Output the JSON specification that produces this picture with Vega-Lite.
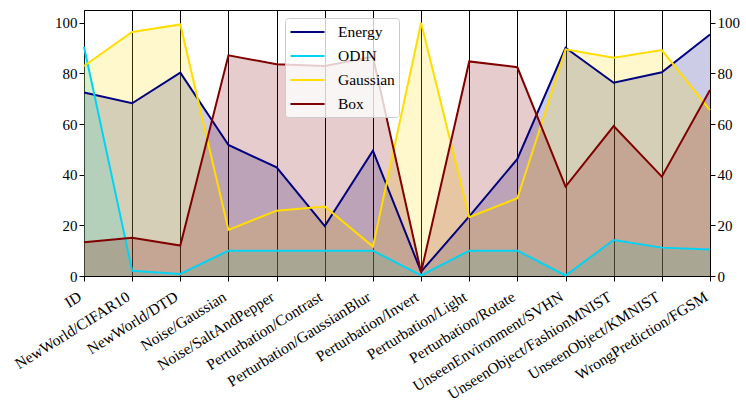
{
  "$schema": "https://vega.github.io/schema/vega-lite/v6.json",
  "width": 626,
  "height": 266,
  "autosize": "none",
  "padding": {"left": 84, "top": 10, "right": 36, "bottom": 134},
  "background": "white",
  "config": {
    "font": "Liberation Serif",
    "view": {"stroke": "black", "strokeWidth": 1},
    "axis": {
      "labelFont": "Liberation Serif",
      "labelFontSize": 15,
      "labelColor": "black",
      "tickColor": "black",
      "domainColor": "black",
      "tickSize": 5,
      "title": null
    },
    "legend": {
      "labelFont": "Liberation Serif",
      "labelFontSize": 15.5,
      "labelColor": "black"
    }
  },
  "data": {
    "values": [
      {"category": "ID", "method": "Energy", "value": 72.4},
      {"category": "NewWorld/CIFAR10", "method": "Energy", "value": 68.2},
      {"category": "NewWorld/DTD", "method": "Energy", "value": 80.3},
      {"category": "Noise/Gaussian", "method": "Energy", "value": 51.7},
      {"category": "Noise/SaltAndPepper", "method": "Energy", "value": 42.9},
      {"category": "Perturbation/Contrast", "method": "Energy", "value": 19.7},
      {"category": "Perturbation/GaussianBlur", "method": "Energy", "value": 49.5},
      {"category": "Perturbation/Invert", "method": "Energy", "value": 1.7},
      {"category": "Perturbation/Light", "method": "Energy", "value": 23.5},
      {"category": "Perturbation/Rotate", "method": "Energy", "value": 46.2},
      {"category": "UnseenEnvironment/SVHN", "method": "Energy", "value": 90.1},
      {"category": "UnseenObject/FashionMNIST", "method": "Energy", "value": 76.3},
      {"category": "UnseenObject/KMNIST", "method": "Energy", "value": 80.4},
      {"category": "WrongPrediction/FGSM", "method": "Energy", "value": 95.3},
      {"category": "ID", "method": "ODIN", "value": 90.5},
      {"category": "NewWorld/CIFAR10", "method": "ODIN", "value": 2.1},
      {"category": "NewWorld/DTD", "method": "ODIN", "value": 0.8},
      {"category": "Noise/Gaussian", "method": "ODIN", "value": 10},
      {"category": "Noise/SaltAndPepper", "method": "ODIN", "value": 10},
      {"category": "Perturbation/Contrast", "method": "ODIN", "value": 10},
      {"category": "Perturbation/GaussianBlur", "method": "ODIN", "value": 10},
      {"category": "Perturbation/Invert", "method": "ODIN", "value": 0.2},
      {"category": "Perturbation/Light", "method": "ODIN", "value": 10},
      {"category": "Perturbation/Rotate", "method": "ODIN", "value": 10},
      {"category": "UnseenEnvironment/SVHN", "method": "ODIN", "value": 0.2},
      {"category": "UnseenObject/FashionMNIST", "method": "ODIN", "value": 14.2},
      {"category": "UnseenObject/KMNIST", "method": "ODIN", "value": 11.2},
      {"category": "WrongPrediction/FGSM", "method": "ODIN", "value": 10.5},
      {"category": "ID", "method": "Gaussian", "value": 82.9},
      {"category": "NewWorld/CIFAR10", "method": "Gaussian", "value": 96.3},
      {"category": "NewWorld/DTD", "method": "Gaussian", "value": 99.3},
      {"category": "Noise/Gaussian", "method": "Gaussian", "value": 18.2},
      {"category": "Noise/SaltAndPepper", "method": "Gaussian", "value": 25.8},
      {"category": "Perturbation/Contrast", "method": "Gaussian", "value": 27.4},
      {"category": "Perturbation/GaussianBlur", "method": "Gaussian", "value": 11.6},
      {"category": "Perturbation/Invert", "method": "Gaussian", "value": 100},
      {"category": "Perturbation/Light", "method": "Gaussian", "value": 23.2},
      {"category": "Perturbation/Rotate", "method": "Gaussian", "value": 30.7},
      {"category": "UnseenEnvironment/SVHN", "method": "Gaussian", "value": 89.5},
      {"category": "UnseenObject/FashionMNIST", "method": "Gaussian", "value": 86.2},
      {"category": "UnseenObject/KMNIST", "method": "Gaussian", "value": 89.2},
      {"category": "WrongPrediction/FGSM", "method": "Gaussian", "value": 65.5},
      {"category": "ID", "method": "Box", "value": 13.3},
      {"category": "NewWorld/CIFAR10", "method": "Box", "value": 15.1},
      {"category": "NewWorld/DTD", "method": "Box", "value": 12},
      {"category": "Noise/Gaussian", "method": "Box", "value": 87.1},
      {"category": "Noise/SaltAndPepper", "method": "Box", "value": 83.6},
      {"category": "Perturbation/Contrast", "method": "Box", "value": 82.9},
      {"category": "Perturbation/GaussianBlur", "method": "Box", "value": 86.6},
      {"category": "Perturbation/Invert", "method": "Box", "value": 1.5},
      {"category": "Perturbation/Light", "method": "Box", "value": 84.7},
      {"category": "Perturbation/Rotate", "method": "Box", "value": 82.4},
      {"category": "UnseenEnvironment/SVHN", "method": "Box", "value": 35.3},
      {"category": "UnseenObject/FashionMNIST", "method": "Box", "value": 59.2},
      {"category": "UnseenObject/KMNIST", "method": "Box", "value": 39.2},
      {"category": "WrongPrediction/FGSM", "method": "Box", "value": 73.4}
    ]
  },
  "encoding": {
    "x": {
      "field": "category",
      "type": "nominal",
      "sort": null,
      "scale": {"type": "point", "padding": 0},
      "axis": {
        "labelAngle": -32,
        "labelAlign": "right",
        "labelBaseline": "top",
        "labelFontSize": 15.5,
        "labelPadding": 8,
        "labelOffset": -8,
        "grid": true,
        "gridColor": "black",
        "gridOpacity": 1,
        "gridWidth": 1,
        "labelOverlap": false,
        "labelLimit": 300
      }
    },
    "color": {
      "field": "method",
      "type": "nominal",
      "sort": null,
      "scale": {
        "domain": ["Energy", "ODIN", "Gaussian", "Box"],
        "range": ["#000080", "#00d4f5", "#ffdd00", "#800000"]
      },
      "legend": {
        "title": null,
        "orient": "none",
        "legendX": 201,
        "legendY": 8,
        "symbolType": "M-1,0H3",
        "symbolSize": 289,
        "symbolStrokeWidth": 2.2,
        "symbolFillColor": "transparent",
        "rowPadding": 5,
        "padding": 4,
        "labelOffset": 29,
        "fillColor": "rgba(255,255,255,0.8)",
        "strokeColor": "#cccccc",
        "cornerRadius": 3
      }
    }
  },
  "layer": [
    {
      "mark": {"type": "area", "fillOpacity": 0.2},
      "encoding": {
        "y": {
          "field": "value",
          "type": "quantitative",
          "stack": null,
          "scale": {"domain": [0, 105], "nice": false, "zero": true},
          "axis": {"orient": "left", "values": [0, 20, 40, 60, 80, 100], "grid": false}
        }
      }
    },
    {
      "mark": {"type": "line", "strokeWidth": 2},
      "encoding": {
        "y": {
          "field": "value",
          "type": "quantitative",
          "stack": null,
          "scale": {"domain": [0, 105], "nice": false, "zero": true},
          "axis": {"orient": "right", "values": [0, 20, 40, 60, 80, 100], "grid": false}
        }
      }
    }
  ],
  "resolve": {"axis": {"y": "independent"}}
}
